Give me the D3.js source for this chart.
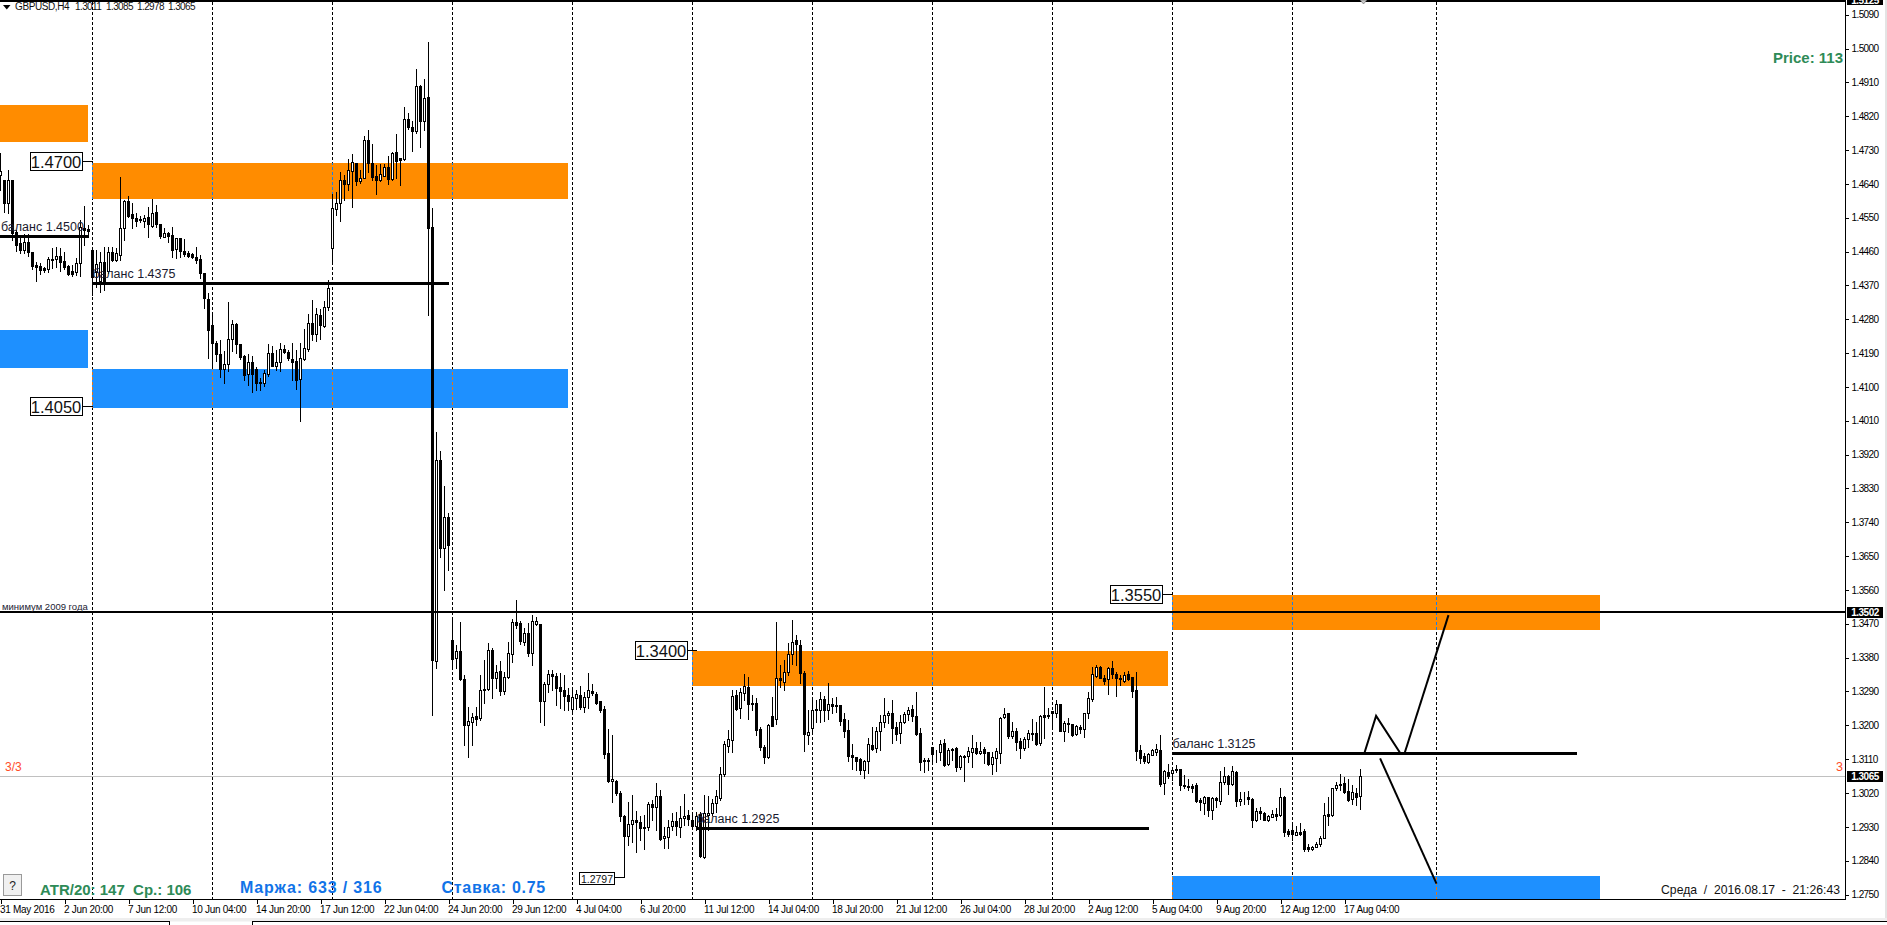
<!DOCTYPE html>
<html><head><meta charset="utf-8">
<script src="https://cdn.jsdelivr.net/npm/d3@7"></script>
<style>
html,body{margin:0;padding:0;background:#fff;overflow:hidden}
svg{display:block;font-family:"Liberation Sans",Arial,sans-serif}
</style></head><body><div id="chart"></div>
<script>
// open, high, low, close in 1/10000 of a dollar
const barsToJuly=[
[14663,14722,14624,14674],[14650,14650,14565,14589],[14589,14677,14562,14650],[14650,14650,14491,14509],[14512,14517,14461,14477],[14483,14504,14456,14464],[14464,14507,14456,14485],[14485,14507,14448,14459],[14459,14459,14413,14421],[14424,14432,14382,14419],
[14421,14429,14400,14411],[14416,14419,14405,14411],[14413,14445,14405,14440],[14440,14469,14416,14437],[14440,14472,14419,14448],[14448,14469,14408,14432],[14435,14459,14413,14419],[14421,14424,14398,14400],[14408,14424,14395,14400],[14405,14443,14398,14429],
[14429,14544,14395,14525],[14523,14581,14477,14517],[14520,14530,14504,14515],[14464,14464,14344,14392],[14405,14464,14366,14427],[14382,14459,14352,14432],[14432,14472,14358,14382],[14408,14472,14403,14459],[14459,14472,14435,14437],[14437,14469,14435,14456],
[14451,14658,14437,14523],[14523,14597,14491,14594],[14594,14608,14552,14554],[14560,14589,14523,14549],[14549,14562,14528,14541],[14546,14554,14538,14544],[14541,14557,14525,14549],[14552,14578,14499,14533],[14528,14600,14525,14562],[14565,14584,14525,14533],
[14533,14533,14496,14501],[14499,14522,14499,14509],[14509,14512,14485,14501],[14504,14525,14445,14464],[14467,14496,14443,14496],[14496,14496,14445,14461],[14461,14493,14448,14453],[14456,14461,14445,14448],[14453,14456,14443,14445],[14445,14472,14429,14437],
[14440,14451,14390,14403],[14403,14403,14310,14336],[14334,14350,14177,14251],[14265,14291,14153,14217],[14217,14222,14169,14187],[14187,14225,14126,14147],[14147,14195,14110,14161],[14161,14326,14142,14227],[14227,14278,14195,14267],[14267,14270,14190,14214],
[14214,14214,14174,14179],[14182,14185,14118,14131],[14134,14187,14105,14166],[14166,14182,14086,14134],[14147,14153,14092,14110],[14113,14123,14092,14110],[14110,14145,14102,14137],[14134,14214,14129,14190],[14190,14209,14155,14155],[14155,14198,14145,14166],
[14166,14217,14142,14201],[14201,14211,14190,14193],[14193,14198,14171,14177],[14174,14217,14118,14166],[14169,14198,14094,14118],[14121,14217,14009,14177],[14174,14254,14171,14203],[14201,14294,14195,14270],[14270,14331,14225,14241],[14241,14310,14222,14294],
[14291,14307,14227,14264],[14262,14328,14259,14312],[14312,14384,14304,14363],[14469,14613,14427,14576],[14573,14618,14557,14589],[14589,14671,14541,14650],[14650,14663,14597,14640],[14640,14706,14624,14677],[14674,14719,14578,14698],[14695,14695,14637,14648],
[14648,14677,14642,14656],[14656,14767,14656,14757],[14757,14783,14671,14695],[14695,14746,14650,14658],[14661,14690,14613,14650],[14650,14693,14648,14666],[14661,14693,14661,14685],[14685,14714,14640,14653],[14653,14725,14650,14722],[14725,14773,14656,14701],
[14709,14709,14637,14703],[14706,14844,14703,14812],[14812,14828,14786,14791],[14791,14807,14727,14781],[14781,14945,14775,14900],[14900,14903,14738,14807],[14807,14919,14783,14868],[14871,15017,14291,14523],[14525,14576,13227,13373],[13371,13980,13352,13905],
[13905,13929,13647,13671],[13671,13836,13560,13754],[13754,13764,13613,13679],[13427,13488,13355,13376],[13379,13413,13352,13397],[13397,13474,13320,13323],[13323,13333,13147,13201],[13201,13248,13115,13211],[13208,13232,13147,13222],[13224,13248,13201,13216],
[13219,13333,13214,13294],[13296,13373,13259,13294],[13296,13419,13294,13400],[13400,13405,13272,13326],[13326,13360,13299,13341],[13344,13371,13280,13291],[13291,13341,13283,13328],[13328,13421,13326,13392],[13389,13482,13368,13474],[13474,13533,13458,13466],
[13472,13477,13416,13424],[13421,13458,13413,13445],[13445,13472,13384,13392],[13392,13493,13360,13477],[13469,13488,13466,13477],[13469,13469,13208,13264],[13264,13315,13201,13310],[13310,13347,13288,13336],[13336,13347,13294,13331],[13331,13339,13254,13299],
[13302,13339,13246,13291],[13294,13333,13240,13278],[13280,13299,13240,13264],[13243,13296,13235,13275]];
const barsJuly=[
[13272,13294,13243,13283],[13280,13304,13243,13248],[13248,13288,13235,13275],[13275,13339,13246,13294],[13291,13310,13280,13286],[13283,13288,13256,13259],[13264,13264,13235,13240],[13243,13251,13113,13123],[13126,13190,13049,13052],[13052,13174,12996,13057],
[13052,13054,13014,13020],[13020,13025,12945,12958],[12958,12961,12796,12905],[12905,12996,12881,12937],[12937,13014,12889,12948],[12948,12972,12863,12942],[12942,12958,12895,12926],[12929,12961,12871,12926],[12929,12996,12921,12990],[12990,13001,12948,12982],
[12982,13046,12921,13012],[13012,13028,12895,12897],[12900,12929,12873,12905],[12903,12948,12873,12929],[12932,12966,12921,12945],[12945,12969,12908,12932],[12929,12985,12903,12953],[12953,13017,12934,12958],[12961,12974,12934,12950],[12948,12961,12926,12932],
[12932,12969,12921,12958],[12964,12969,12849,12852],[12849,13014,12847,12966],[12961,13012,12921,12966],[12966,13004,12961,12993],[12993,13028,12969,13012],[13006,13089,13001,13070],[13070,13158,13065,13150],[13145,13187,13129,13163],[13161,13294,13129,13278],
[13280,13294,13240,13243],[13246,13299,13219,13288],[13286,13336,13267,13304],[13302,13328,13216,13256],[13259,13280,13240,13256],[13259,13272,13174,13187],[13190,13195,13134,13142],[13142,13147,13099,13115],[13115,13203,13113,13201],[13224,13275,13198,13198],
[13216,13474,13203,13326],[13326,13360,13302,13320],[13315,13373,13294,13341],[13341,13419,13333,13389],[13389,13480,13363,13421],[13427,13440,13360,13416],[13413,13427,13312,13339],[13339,13344,13131,13177],[13174,13240,13150,13182],[13192,13267,13182,13240],
[13243,13267,13210,13241],[13242,13289,13210,13269],[13270,13278,13212,13241],[13241,13312,13216,13256],[13256,13272,13234,13252],[13254,13274,13236,13251],[13254,13254,13201,13212],[13216,13234,13170,13186],[13187,13214,13105,13119],[13121,13149,13084,13117],
[13115,13117,13081,13106],[13110,13112,13070,13081],[13081,13108,13061,13106],[13106,13165,13074,13149],[13148,13196,13134,13136],[13139,13196,13130,13185],[13185,13227,13134,13208],[13208,13272,13196,13227],[13227,13238,13205,13233],[13233,13266,13152,13192],
[13195,13210,13161,13178],[13179,13227,13152,13208],[13208,13236,13205,13230],[13229,13248,13214,13241],[13243,13254,13212,13226],[13225,13289,13174,13177],[13179,13192,13081,13103],[13108,13112,13077,13104],[13108,13114,13081,13104],[13143,13143,13101,13124],
[13130,13134,13103,13128],[13128,13161,13108,13150],[13152,13163,13093,13094],[13097,13139,13094,13134],[13137,13140,13108,13134],[13140,13143,13079,13090],[13090,13121,13085,13118],[13119,13121,13053,13117],[13118,13143,13103,13132],[13130,13174,13090,13139],
[13139,13156,13124,13125],[13125,13156,13124,13132],[13136,13143,13101,13127],[13128,13130,13094,13097],[13097,13130,13070,13115],[13112,13139,13079,13132],[13127,13223,13099,13219],[13221,13245,13219,13230],[13233,13233,13167,13172],[13172,13210,13165,13185],
[13185,13192,13134,13155],[13158,13165,13114,13140],[13140,13170,13134,13163],[13163,13187,13143,13179],[13179,13216,13161,13176],[13179,13210,13148,13150],[13152,13227,13148,13225],[13227,13301,13167,13223],[13227,13245,13219,13226],[13237,13239,13196,13232],
[13232,13267,13223,13256],[13256,13257,13185,13186],[13186,13212,13159,13205],[13205,13219,13183,13203],[13203,13203,13172,13174],[13176,13201,13174,13198],[13195,13201,13180,13190],[13190,13234,13170,13232]];
const barsAugust=[
[13234,13289,13220,13272],[13269,13356,13265,13336],[13332,13360,13329,13354],[13355,13357,13325,13327],[13325,13334,13309,13318],[13322,13354,13283,13352],[13352,13370,13325,13336],[13336,13343,13278,13325],[13327,13334,13307,13322],[13318,13343,13316,13333],
[13336,13344,13320,13324],[13328,13329,13276,13292],[13294,13343,13108,13132],[13134,13148,13099,13112],[13119,13125,13099,13106],[13102,13125,13101,13124],[13122,13136,13121,13133],[13130,13150,13121,13136],[13134,13174,13038,13044],[13046,13081,13017,13078],
[13076,13097,13059,13065],[13072,13090,13054,13080],[13083,13094,13077,13080],[13085,13085,13028,13041],[13040,13069,13032,13038],[13039,13057,13028,13037],[13038,13043,13023,13032],[13041,13046,12996,12998],[13000,13007,12975,12997],[12994,13012,12964,13010],
[13010,13010,12959,12975],[12974,13010,12952,13007],[13007,13010,12983,13000],[12998,13079,12992,13048],[13049,13088,13045,13065],[13065,13067,13018,13043],[13043,13091,13041,13079],[13076,13079,12985,12999],[12999,13023,12987,13005],[13005,13023,12990,13003],
[13008,13025,12992,13005],[13005,13007,12930,12948],[12948,12981,12946,12971],[12971,12983,12952,12968],[12968,12970,12948,12949],[12949,12961,12945,12958],[12956,12974,12955,12965],[12965,12979,12948,12959],[12961,13034,12958,13008],[13010,13011,12905,12916],
[12918,12925,12905,12910],[12921,12937,12894,12910],[12908,12932,12907,12915],[12917,12940,12907,12910],[12918,12923,12866,12872],[12875,12885,12866,12872],[12871,12879,12869,12877],[12877,12890,12875,12885],[12884,12905,12879,12899],[12901,12994,12899,12961],
[12963,13010,12934,12960],[12961,13034,12958,13032],[13032,13049,13029,13042],[13045,13070,13029,13042],[13047,13063,13020,13023],[13025,13058,12998,13001],[13003,13041,12990,13023],[13021,13032,12987,13010],[13011,13085,12978,13065]];

const priceTicks=[1.509,1.5,1.491,1.482,1.473,1.464,1.455,1.446,1.437,1.428,1.419,1.41,1.401,1.392,1.383,1.374,1.365,1.356,1.347,1.338,1.329,1.32,1.311,1.302,1.293,1.284,1.275];
const timeLabels=["31 May 2016","2 Jun 20:00","7 Jun 12:00","10 Jun 04:00","14 Jun 20:00","17 Jun 12:00","22 Jun 04:00","24 Jun 20:00","29 Jun 12:00","4 Jul 04:00","6 Jul 20:00","11 Jul 12:00","14 Jul 04:00","18 Jul 20:00","21 Jul 12:00","26 Jul 04:00","28 Jul 20:00","2 Aug 12:00","5 Aug 04:00","9 Aug 20:00","12 Aug 12:00","17 Aug 04:00"];
const timeTickBars=[0,16,32,48,64,80,96,112,128,144,160,176,192,208,224,240,256,272,288,304,320,336];
const sessionBars=[23,53,83,113,143,173,203,233,263,293,323,359];

// supply / demand zones
const zoneFromBar=[-0.13,23,-0.13,23,173,293,293];
const zoneToBar=[21.9,141.9,21.9,141.9,291.9,399.9,399.9];
const zoneHigh=[1.4850,1.4695,1.4251,1.4147,1.3397,1.3546,1.2799];
const zoneLow=[1.4751,1.4600,1.4150,1.4044,1.3304,1.3453,1.2738];
const zoneKind=["sell","sell","buy","buy","sell","sell","buy"];

const balanceValues=[1.45,1.4375,1.2925,1.3125];
const balanceFrom=[-0.13,23,174,293];
const balanceTo=[22.1,112,287,394];
const balanceNames=["баланс 1.4500","баланс 1.4375","баланс 1.2925","баланс 1.3125"];

const levelValues=[1.47,1.405,1.34,1.355];
const levelBars=[23,23,173,293];
const levelLabels=["1.4700","1.4050","1.3400","1.3550"];

const pathUp1=[[341,1.3127],[343.9,1.3225],[350,1.3125]];
const pathUp2=[[351,1.3125],[362,1.3493]];
const pathDown=[[344.9,1.3112],[359,1.2779]];

const headerSymbol="GBPUSD,H4";
const headerPrices=["1.3011","1.3085","1.2978","1.3065"];
const lastPrice=1.3065, minimum2009=1.3502, topPrice="1.5125", extremeLow=1.2797, extremeBar=156;

const W=1887,H=925,axisX=1845.5,axisY=899.5;
const bars=[...barsToJuly,...barsJuly,...barsAugust].map(r=>r.map(v=>v/1e4));
const x=d3.scaleLinear().domain([0,340]).range([0.5,1360.5]);
const y=d3.scaleLinear().domain([1.5,1.275]).range([48.5,894.5]);
const ry=p=>Math.round(y(p));
const svg=d3.select("#chart").append("svg").attr("width",W).attr("height",H);
svg.append("rect").attr("width",W).attr("height",H).attr("fill","#fff");

// clipped plot area
svg.append("clipPath").attr("id","plot").append("rect").attr("x",0).attr("y",2).attr("width",axisX).attr("height",axisY-2);
const plot=svg.append("g").attr("clip-path","url(#plot)");

const zoneColor={sell:"#ff8c00",buy:"#1e90ff"};
plot.selectAll("rect.zone").data(d3.range(zoneHigh.length)).join("rect").attr("class","zone")
 .attr("x",i=>Math.max(0,x(zoneFromBar[i])-0.5)).attr("y",i=>ry(zoneHigh[i]))
 .attr("width",i=>x(zoneToBar[i])-Math.max(0,x(zoneFromBar[i])-0.5)).attr("height",i=>ry(zoneLow[i])-ry(zoneHigh[i]))
 .attr("fill",i=>zoneColor[zoneKind[i]]).attr("shape-rendering","crispEdges");

// session separators: black on white, inverted over the zones (blue on orange, orange on blue)
const dashPeriod=5;
plot.selectAll("line.session").data(sessionBars).join("line").attr("class","session")
 .attr("x1",d=>x(d)).attr("x2",d=>x(d)).attr("y1",2).attr("y2",axisY)
 .attr("stroke","#000").attr("stroke-dasharray","3 2").attr("shape-rendering","crispEdges");
const inverted={sell:"#1a7fe8",buy:"#e0761a"};
sessionBars.forEach(b=>zoneHigh.forEach((hi,i)=>{
 if(b<zoneFromBar[i]||b>zoneToBar[i])return;
 const y0=ry(hi),y1=ry(zoneLow[i]);
 plot.append("line").attr("x1",x(b)).attr("x2",x(b)).attr("y1",y0).attr("y2",y1)
  .attr("stroke",inverted[zoneKind[i]]).attr("stroke-dasharray","3 2").attr("stroke-dashoffset",(y0-2)%dashPeriod).attr("shape-rendering","crispEdges");
}));

// horizontal price lines
plot.append("line").attr("x1",0).attr("x2",axisX).attr("y1",ry(lastPrice)+.5).attr("y2",ry(lastPrice)+.5).attr("stroke","#c0c0c0").attr("shape-rendering","crispEdges");

// candles
const candle=plot.append("g").selectAll("g").data(bars).join("g");
candle.append("line").attr("x1",(d,i)=>x(i)).attr("x2",(d,i)=>x(i))
 .attr("y1",d=>ry(d[1])).attr("y2",d=>ry(d[2])+1).attr("stroke","#000").attr("shape-rendering","crispEdges");
candle.append("rect").attr("x",(d,i)=>x(i)-1).attr("width",2)
 .attr("y",d=>ry(Math.max(d[0],d[3]))+.5).attr("height",d=>Math.max(0,ry(Math.min(d[0],d[3]))-ry(Math.max(d[0],d[3]))))
 .attr("fill",d=>d[3]>=d[0]?"#fff":"#000").attr("stroke","#000").attr("shape-rendering","crispEdges");

// 2009 minimum
plot.append("line").attr("x1",0).attr("x2",axisX).attr("y1",y(minimum2009)).attr("y2",y(minimum2009)).attr("stroke","#000").attr("stroke-width",2).attr("shape-rendering","crispEdges");
plot.append("text").attr("x",2).attr("y",y(minimum2009)-2).attr("font-size",9.5).attr("fill","#223").text("минимум 2009 года");

// balance lines
balanceValues.forEach((v,i)=>{
 plot.append("line").attr("x1",x(balanceFrom[i])).attr("x2",x(balanceTo[i])).attr("y1",y(v)).attr("y2",y(v)).attr("stroke","#000").attr("stroke-width",3).attr("shape-rendering","crispEdges");
 plot.append("text").attr("x",Math.max(1,x(balanceFrom[i]))).attr("y",y(v)-5.5).attr("font-size",12.5).attr("fill","#1a1a2e").text(balanceNames[i]);
});

// projected paths
const lineGen=d3.line().x(d=>x(d[0])).y(d=>y(d[1]));
[pathUp1,pathUp2,pathDown].forEach(p=>plot.append("path").attr("d",lineGen(p)).attr("fill","none").attr("stroke","#000").attr("stroke-width",2));

// boxed level labels
levelValues.forEach((v,i)=>{
 const r=x(levelBars[i])-(i===2?5.5:10.5), yy=ry(v)+.5;
 plot.append("line").attr("x1",r).attr("x2",x(levelBars[i])+(i===2?4:0)).attr("y1",yy).attr("y2",yy).attr("stroke","#000").attr("shape-rendering","crispEdges");
 plot.append("rect").attr("x",r-52).attr("y",yy-9).attr("width",52).attr("height",18).attr("fill","#fff").attr("stroke","#000").attr("shape-rendering","crispEdges");
 plot.append("text").attr("x",r-26).attr("y",yy+6).attr("text-anchor","middle").attr("font-size",16.5).attr("fill","#111").text(levelLabels[i]);
});

// extreme low label
const lowY=ry(extremeLow)+.5;
plot.append("path").attr("d",`M${x(extremeBar)},${lowY}H${x(extremeBar)-10}`).attr("stroke","#000").attr("fill","none").attr("shape-rendering","crispEdges");
plot.append("rect").attr("x",579.5).attr("y",lowY-5).attr("width",35).attr("height",12).attr("fill","#fff").attr("stroke","#000").attr("shape-rendering","crispEdges");
plot.append("text").attr("x",597).attr("y",lowY+5).attr("text-anchor","middle").attr("font-size",10.5).attr("fill","#111").text(extremeLow.toFixed(4));

// axes
const yAxis=d3.axisRight(y).tickValues(priceTicks).tickFormat(d3.format(".4f")).tickSize(3).tickPadding(3);
const gy=svg.append("g").attr("transform",`translate(${axisX},0)`).call(yAxis);
const xAxis=d3.axisBottom(x).tickValues(timeTickBars).tickFormat((d,i)=>timeLabels[i]).tickSize(4).tickPadding(2);
const gx=svg.append("g").attr("transform",`translate(0,${axisY})`).call(xAxis);
gy.select(".domain").remove();gx.select(".domain").remove();
gy.selectAll("text").attr("font-size",10).attr("letter-spacing",-0.6).attr("font-family","Liberation Sans").attr("fill","#000");
gx.selectAll("text").attr("font-size",10).attr("letter-spacing",-0.3).attr("text-anchor","start").attr("dx",-1).attr("font-family","Liberation Sans").attr("fill","#000");
svg.selectAll(".tick line").attr("shape-rendering","crispEdges");
svg.append("line").attr("x1",0).attr("x2",axisX+.5).attr("y1",axisY).attr("y2",axisY).attr("stroke","#000").attr("shape-rendering","crispEdges");
svg.append("line").attr("x1",axisX).attr("x2",axisX).attr("y1",0).attr("y2",axisY).attr("stroke","#000").attr("shape-rendering","crispEdges");
svg.append("rect").attr("width",axisX).attr("height",2).attr("fill","#000");

// price tags on axis
function tag(p,label){
 const t=ry(p)+.5;
 svg.append("rect").attr("x",1847).attr("y",t-5.5).attr("width",36).attr("height",11).attr("fill","#000");
 svg.append("text").attr("x",1865).attr("y",t+3.5).attr("text-anchor","middle").attr("font-size",10).attr("letter-spacing",-0.5).attr("font-weight","bold").attr("fill","#fff").text(label);
}
tag(minimum2009,minimum2009.toFixed(4));
tag(lastPrice,lastPrice.toFixed(4));
svg.append("rect").attr("x",1847).attr("y",0).attr("width",36).attr("height",5).attr("fill","#000");
svg.append("text").attr("x",1865).attr("y",3.5).attr("text-anchor","middle").attr("font-size",10).attr("letter-spacing",-0.5).attr("font-weight","bold").attr("fill","#fff").text(topPrice);

// header
svg.append("path").attr("d","M3,5H10.5L6.8,9.5Z").attr("fill","#000");
svg.append("text").attr("x",15).attr("y",10).attr("font-size",10).attr("letter-spacing",-0.4).attr("fill","#111").text(headerSymbol);
headerPrices.forEach((p,i)=>svg.append("text").attr("x",75+31*i).attr("y",10).attr("font-size",10).attr("letter-spacing",-0.6).attr("fill","#111").text(p));

// info texts
const txt=(t,xx,yy,size,fill,opt={})=>{const e=svg.append("text").attr("x",xx).attr("y",yy).attr("font-size",size).attr("fill",fill).text(t);
 Object.entries(opt).forEach(([k,v])=>e.attr(k,v));return e;};
txt("Price: 113",1843,63,15,"#2e8b57",{"font-weight":"bold","text-anchor":"end"});
txt("3/3",5,771,12,"#ff4d2a");
txt("3",1836,771,12.5,"#ff4d2a");
txt("ATR/20: 147  Ср.: 106",40,895,15,"#2e8b57",{"font-weight":"bold"}).style("white-space","pre");
txt("Маржа: 633 / 316",240,893,16,"#1173e8",{"font-weight":"bold","letter-spacing":0.85});
txt("Ставка: 0.75",441.5,893,16,"#1173e8",{"font-weight":"bold","letter-spacing":0.7});
txt("Среда  /  2016.08.17  -  21:26:43",1840,894,12.2,"#111",{"text-anchor":"end"}).style("white-space","pre");

// help button
svg.append("rect").attr("x",3.5).attr("y",874.5).attr("width",18).attr("height",21).attr("fill","#f0f0f0").attr("stroke","#9a9a9a").attr("shape-rendering","crispEdges");
txt("?",12.5,890,12,"#222",{"text-anchor":"middle"});

// window chrome
svg.append("path").attr("d","M1360,0H1367L1363.5,4Z").attr("fill","#c8c8c8").attr("stroke","#555").attr("stroke-width",.5);
svg.append("rect").attr("x",1885).attr("y",0).attr("width",2).attr("height",920).attr("fill","#e4e4e4");
svg.append("rect").attr("x",0).attr("y",918).attr("width",W).attr("height",3.5).attr("fill","#eeeeee");
svg.append("path").attr("d","M0,921.5H169.5V925M252.5,925V921.5H1887").attr("fill","none").attr("stroke","#000").attr("shape-rendering","crispEdges");
</script></body></html>
